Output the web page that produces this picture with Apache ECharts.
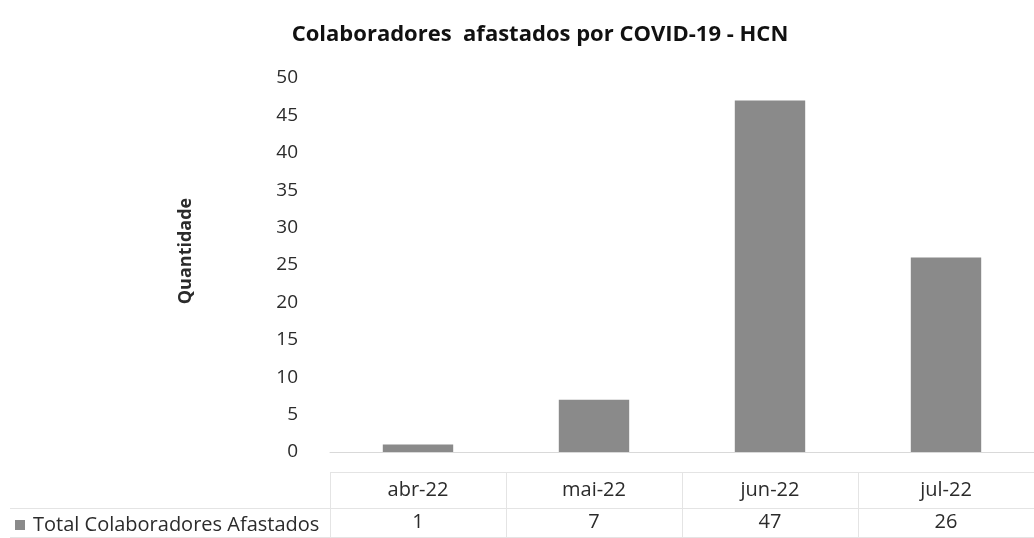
<!DOCTYPE html>
<html>
<head>
<meta charset="utf-8">
<script src="https://cdn.jsdelivr.net/npm/echarts@6/dist/echarts.min.js"></script>
<style>
  html, body { margin: 0; padding: 0; background: #ffffff; }
  #chart { width: 1034px; height: 538px; }
</style>
</head>
<body>
<div id="chart"></div>
<script>
// Monthly staff absences due to COVID-19
const months = ['abr-22', 'mai-22', 'jun-22', 'jul-22'];
const afastados = [1, 7, 47, 26];
const seriesName = 'Total Colaboradores Afastados';
const yTicks = { min: 0, max: 50, interval: 5 };

const FONT = '"Open Sans", "Liberation Sans", sans-serif';
const TEXT = '#2b2b2b';
const BAR = '#8a8a8a';
const TABLE_LINE = '#e4e4e4';

const chart = echarts.init(document.getElementById('chart'), null, { renderer: 'canvas' });

chart.setOption({
  animation: false,
  backgroundColor: '#ffffff',
  title: {
    text: 'Colaboradores  afastados por COVID-19 - HCN',
    left: 535,
    top: 19,
    textAlign: 'center',
    textStyle: { fontFamily: FONT, fontSize: 22, fontWeight: 'bold', color: '#111111' }
  },
  legend: {
    data: [seriesName],
    left: 15,
    top: 515,
    padding: 0,
    icon: 'rect',
    itemWidth: 10,
    itemHeight: 10,
    textStyle: { fontFamily: FONT, fontSize: 20, color: TEXT, padding: [0, 0, 0, 3] }
  },
  grid: { left: 330, top: 78, width: 708, height: 377, containLabel: false },
  xAxis: {
    type: 'category',
    data: months,
    axisLine: { show: true, lineStyle: { color: '#d9d9d9', width: 1 } },
    axisTick: { show: false },
    axisLabel: {
      interval: 0,
      margin: 22,
      fontFamily: FONT,
      fontSize: 20,
      color: TEXT,
      lineHeight: 32,
      formatter: (v, i) => v + '\n' + afastados[i]
    }
  },
  yAxis: {
    type: 'value',
    min: yTicks.min,
    max: yTicks.max,
    interval: yTicks.interval,
    name: 'Quantidade',
    nameLocation: 'middle',
    nameGap: 135,
    nameRotate: 90,
    nameTextStyle: { fontFamily: FONT, fontSize: 18, fontWeight: 'bold', color: TEXT, padding: [0, 0, 0, 28] },
    axisLine: { show: false },
    axisTick: { show: false },
    splitLine: { show: false },
    axisLabel: { margin: 32, fontFamily: FONT, fontSize: 19, color: TEXT }
  },
  series: [{
    name: seriesName,
    type: 'bar',
    data: afastados,
    barWidth: '40%',
    itemStyle: { color: BAR }
  }]
});

// Data-table grid lines under the plot
function drawTable() {
  const step = chart.convertToPixel({ xAxisIndex: 0 }, months[1]) - chart.convertToPixel({ xAxisIndex: 0 }, months[0]);
  const x0 = chart.convertToPixel({ xAxisIndex: 0 }, months[0]) - step / 2;
  const rowTop = 472;
  const rowMid = 508;
  const rowBot = 537;
  const els = [];
  for (let i = 0; i <= months.length; i++) {
    const x = Math.round(x0 + i * step) + 0.5;
    els.push({ type: 'line', shape: { x1: x, y1: rowTop, x2: x, y2: rowBot }, style: { stroke: TABLE_LINE, lineWidth: 1 }, silent: true });
  }
  [rowTop, rowMid, rowBot].forEach(y => {
    els.push({ type: 'line', shape: { x1: (y === rowTop ? x0 : 10), y1: y + 0.5, x2: 1034, y2: y + 0.5 }, style: { stroke: TABLE_LINE, lineWidth: 1 }, silent: true });
  });
  chart.setOption({ graphic: els });
}
drawTable();
</script>
</body>
</html>
